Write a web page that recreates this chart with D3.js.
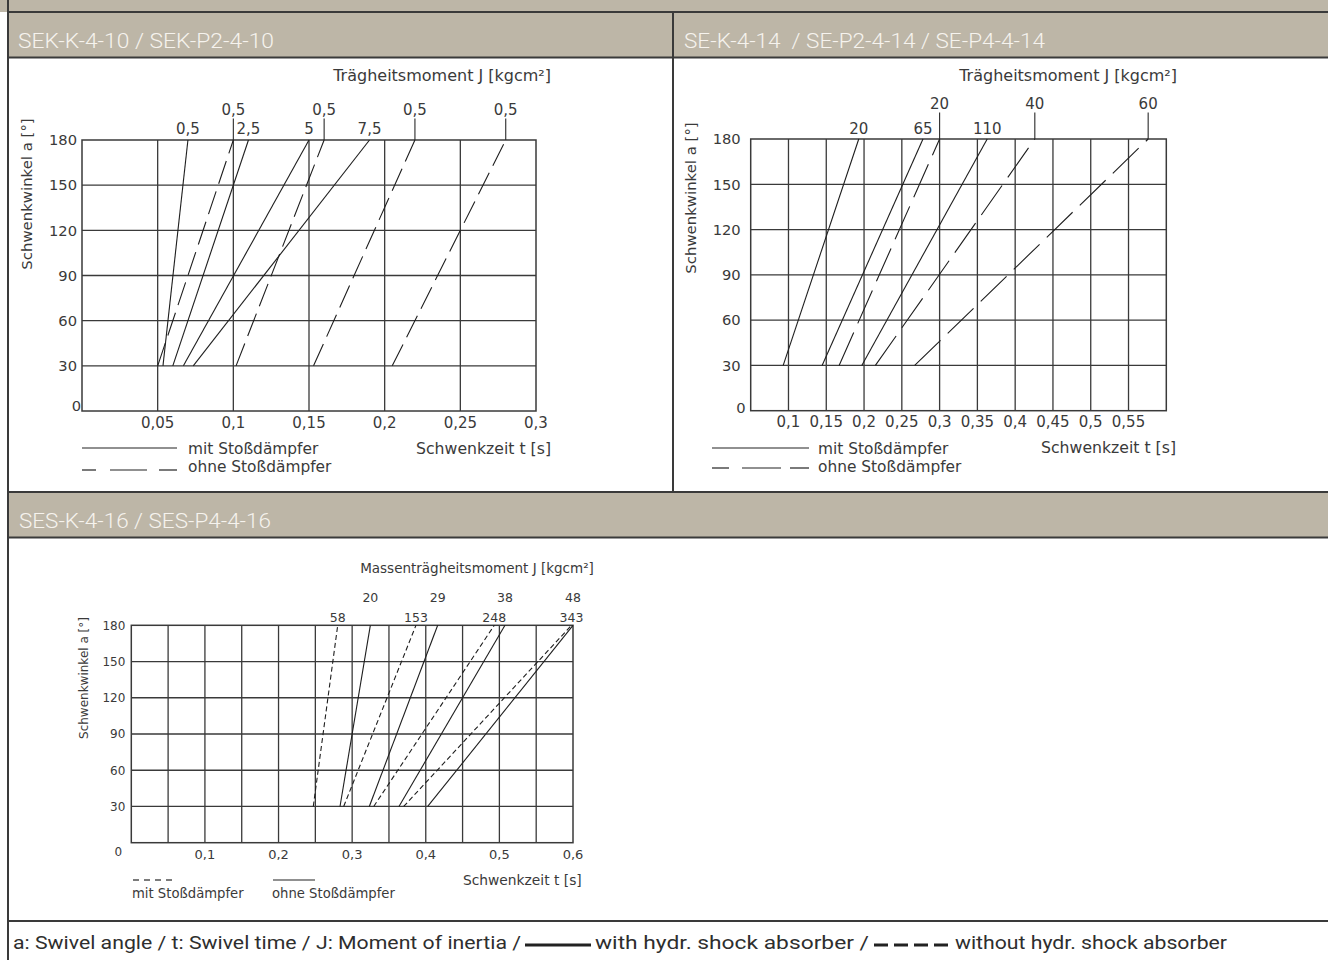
<!DOCTYPE html>
<html lang="de">
<head>
<meta charset="UTF-8">
<title>Schwenkzeit / Trägheitsmoment</title>
<script src="https://d3js.org/d3.v7.min.js"></script>
<style>
  body { margin: 0; background: #fff; }
  svg text { font-family: "DejaVu Sans", Verdana, sans-serif; fill: #3a3a3a; }
  svg text.band { font-family: Roboto, "DejaVu Sans Condensed", sans-serif; font-weight: 300; }
  svg text.band.foot { font-weight: 400; }
</style>
</head>
<body>
<svg id="chart" width="1328" height="960"></svg>
<script>
// shared angle ticks
const angleTicks = [0, 30, 60, 90, 120, 150, 180];

// SEK-K-4-10 / SEK-P2-4-10
const sekTimeTicks = [0.05, 0.1, 0.15, 0.2, 0.25, 0.3];
const sekSolidJ = ['0,5', '2,5', '5', '7,5'];
const sekSolidT30 = [0.0535, 0.060, 0.067, 0.0735];
const sekSolidT180 = [0.070, 0.110, 0.150, 0.190];
const sekDashJ = ['0,5', '0,5', '0,5', '0,5'];
const sekDashT30 = [0.050, 0.1018, 0.153, 0.205];
const sekDashT180 = [0.100, 0.160, 0.220, 0.280];

// SE-K-4-14 / SE-P2-4-14 / SE-P4-4-14
const seTimeTicks = [0.1, 0.15, 0.2, 0.25, 0.3, 0.35, 0.4, 0.45, 0.5, 0.55];
const seSolidJ = ['20', '65', '110'];
const seSolidT30 = [0.093, 0.1445, 0.197];
const seSolidT180 = [0.193, 0.278, 0.363];
const seDashJ = ['20', '40', '60'];
const seDashT30 = [0.167, 0.215, 0.267];
const seDashT180 = [0.300, 0.426, 0.576];

// SES-K-4-16 / SES-P4-4-16
const sesTimeTicks = [0.1, 0.2, 0.3, 0.4, 0.5, 0.6];
const sesGridTicks = [0.05, 0.1, 0.15, 0.2, 0.25, 0.3, 0.35, 0.4, 0.45, 0.5, 0.55];
const sesSolidJ = ['20', '29', '38', '48'];
const sesSolidT30 = [0.2835, 0.3233, 0.3636, 0.4026];
const sesSolidT180 = [0.3247, 0.4162, 0.5076, 0.600];
const sesDashJ = ['58', '153', '248', '343'];
const sesDashT30 = [0.2472, 0.2885, 0.3293, 0.370];
const sesDashT180 = [0.2804, 0.3867, 0.4931, 0.598];

const svg = d3.select('#chart');
const bandColor = '#bdb6a7';
const rule = '#3a3a3a';
const comma = v => String(v).replace('.', ',');

// frame: bands and rules
svg.append('rect').attr('x', 0).attr('y', 0).attr('width', 1328).attr('height', 12).attr('fill', bandColor);
svg.append('rect').attr('x', 8).attr('y', 13).attr('width', 1320).attr('height', 44).attr('fill', bandColor);
svg.append('rect').attr('x', 8).attr('y', 493).attr('width', 1320).attr('height', 44).attr('fill', bandColor);
[12, 57.5, 492, 537.5, 921].forEach(y => {
    svg.append('line').attr('x1', 8).attr('x2', 1328).attr('y1', y).attr('y2', y)
        .attr('stroke', rule).attr('stroke-width', 2);
});
svg.append('line').attr('x1', 8).attr('x2', 8).attr('y1', 0).attr('y2', 960).attr('stroke', rule).attr('stroke-width', 2);
svg.append('line').attr('x1', 673).attr('x2', 673).attr('y1', 12).attr('y2', 492).attr('stroke', rule).attr('stroke-width', 2);

function bandText(x, y, txt, len, color, size, cls) {
    svg.append('text').attr('class', 'band' + (cls ? ' ' + cls : ''))
        .attr('x', x).attr('y', y)
        .attr('textLength', len).attr('lengthAdjust', 'spacingAndGlyphs')
        .style('white-space', 'pre')
        .style('font-size', size + 'px')
        .style('fill', color)
        .text(txt);
}
bandText(18, 48, 'SEK-K-4-10 / SEK-P2-4-10', 256, '#f6f3ee', 20.5);
bandText(684, 48, 'SE-K-4-14  / SE-P2-4-14 / SE-P4-4-14', 361, '#f6f3ee', 20.5);
bandText(19, 528, 'SES-K-4-16 / SES-P4-4-16', 252, '#f6f3ee', 20.5);

// footer
bandText(13, 949, 'a: Swivel angle / t: Swivel time / J: Moment of inertia /', 508, '#2e2e2e', 19, 'foot');
svg.append('line').attr('x1', 525).attr('x2', 591).attr('y1', 945).attr('y2', 945).attr('stroke', '#222').attr('stroke-width', 3);
bandText(595, 949, 'with hydr. shock absorber /', 274, '#2e2e2e', 19, 'foot');
svg.append('line').attr('x1', 874).attr('x2', 950).attr('y1', 945).attr('y2', 945)
    .attr('stroke', '#222').attr('stroke-width', 3).attr('stroke-dasharray', '14,6');
bandText(955, 949, 'without hydr. shock absorber', 272, '#2e2e2e', 19, 'foot');

function drawChart(c) {
    const g = svg.append('g');
    const x = d3.scaleLinear().domain(c.xDomain).range(c.xRange);
    const y = d3.scaleLinear().domain([0, 180]).range(c.yRange);

    // grid
    g.selectAll('.vgrid').data(c.gridX).enter().append('line')
        .attr('x1', d => x(d)).attr('x2', d => x(d))
        .attr('y1', y(0)).attr('y2', y(180))
        .attr('stroke', rule).attr('stroke-width', 1.3);
    g.selectAll('.hgrid').data(angleTicks.slice(1, -1)).enter().append('line')
        .attr('x1', x(c.xDomain[0])).attr('x2', x(c.xDomain[1]))
        .attr('y1', d => y(d)).attr('y2', d => y(d))
        .attr('stroke', rule).attr('stroke-width', 1.3);
    g.append('rect')
        .attr('x', x(c.xDomain[0])).attr('y', y(180))
        .attr('width', x(c.xDomain[1]) - x(c.xDomain[0]))
        .attr('height', y(0) - y(180))
        .attr('fill', 'none').attr('stroke', rule).attr('stroke-width', 1.5);

    // y tick labels
    g.selectAll('.ytl').data(angleTicks.slice(1)).enter().append('text')
        .attr('x', x(c.xDomain[0]) - c.yLabelGap)
        .attr('y', d => y(d)).attr('dy', '0.36em')
        .attr('text-anchor', 'end')
        .style('font-size', c.yTickSize + 'px')
        .text(d => d);
    g.append('text')
        .attr('x', x(c.xDomain[0]) + c.zero[0]).attr('y', y(0) + c.zero[1])
        .attr('dy', '0.36em').attr('text-anchor', c.zero[2])
        .style('font-size', c.yTickSize + 'px')
        .text('0');

    // x tick labels
    g.selectAll('.xtl').data(c.xTicks).enter().append('text')
        .attr('x', d => x(d)).attr('y', y(0) + c.xLabelGap)
        .attr('text-anchor', 'middle')
        .style('font-size', c.xTickSize + 'px')
        .text(d => comma(d));

    // axis titles
    g.append('text')
        .attr('transform', `translate(${c.yTitle[0]},${c.yTitle[1]}) rotate(-90)`)
        .attr('text-anchor', 'middle').attr('dy', '0.36em')
        .style('font-size', c.yTitleSize + 'px')
        .text('Schwenkwinkel a [°]');
    g.append('text')
        .attr('x', c.xTitle[0]).attr('y', c.xTitle[1])
        .attr('text-anchor', c.xTitle[2])
        .style('font-size', c.xTitleSize + 'px')
        .text('Schwenkzeit t [s]');
    g.append('text')
        .attr('x', c.jTitle[0]).attr('y', c.jTitle[1])
        .attr('text-anchor', c.jTitle[2])
        .style('font-size', c.jTitleSize + 'px')
        .text(c.jTitleText);

    // series: straight lines from 30° to 180°
    const line = d3.line().x(d => x(d[0])).y(d => y(d[1]));
    const solid = c.solidT30.map((t, i) => ({ j: c.solidJ[i], pts: [[t, 30], [c.solidT180[i], 180]] }));
    const dash = c.dashT30.map((t, i) => ({ j: c.dashJ[i], pts: [[t, 30], [c.dashT180[i], 180]] }));

    g.selectAll('.solid').data(solid).enter().append('path')
        .attr('d', d => line(d.pts))
        .attr('fill', 'none').attr('stroke', '#1e1e1e').attr('stroke-width', 1.1);
    g.selectAll('.dash').data(dash).enter().append('path')
        .attr('d', d => line(d.pts))
        .attr('fill', 'none').attr('stroke', '#1e1e1e').attr('stroke-width', 1.1)
        .attr('stroke-dasharray', c.dashPattern);

    // J labels above the line ends
    const topRow = c.solidOnTop ? solid : dash;
    const lowRow = c.solidOnTop ? dash : solid;
    g.selectAll('.jtop').data(topRow).enter().append('text')
        .attr('x', d => x(d.pts[1][0]))
        .attr('y', c.rowY[0])
        .attr('text-anchor', 'middle')
        .style('font-size', c.jSize + 'px')
        .text(d => d.j);
    g.selectAll('.jlow').data(lowRow).enter().append('text')
        .attr('x', d => x(d.pts[1][0]))
        .attr('y', c.rowY[1])
        .attr('text-anchor', 'middle')
        .style('font-size', c.jSize + 'px')
        .text(d => d.j);
    if (c.leaders) {
        g.selectAll('.leader').data(topRow).enter().append('line')
            .attr('x1', d => x(d.pts[1][0])).attr('x2', d => x(d.pts[1][0]))
            .attr('y1', c.rowY[0] + 4).attr('y2', y(180))
            .attr('stroke', '#2a2a2a').attr('stroke-width', 1.1);
    }

    // legend samples
    c.legend.forEach(l => {
        l.segs.forEach(s => {
            g.append('line').attr('x1', s[0]).attr('x2', s[1]).attr('y1', l.y).attr('y2', l.y)
                .attr('stroke', '#222').attr('stroke-width', 1.2);
        });
        g.append('text').attr('x', l.tx).attr('y', l.ty)
            .style('font-size', c.legendSize + 'px')
            .text(l.text);
    });
}

drawChart({
    xDomain: [0, 0.3], xRange: [82, 536], yRange: [411, 140],
    gridX: sekTimeTicks.slice(0, -1), xTicks: sekTimeTicks,
    xTickSize: 15, yTickSize: 14.7, yTitleSize: 14.9, xTitleSize: 15.7, jTitleSize: 16, jSize: 15, legendSize: 15.4,
    yLabelGap: 5, xLabelGap: 16.5, zero: [-1, -5, 'end'],
    yTitle: [27, 194], xTitle: [551, 454, 'end'],
    jTitle: [551, 81, 'end'], jTitleText: 'Trägheitsmoment J [kgcm²]',
    solidJ: sekSolidJ, solidT30: sekSolidT30, solidT180: sekSolidT180,
    dashJ: sekDashJ, dashT30: sekDashT30, dashT180: sekDashT180,
    dashPattern: '24,8', rowY: [114.5, 133.5], solidOnTop: false, leaders: true,
    legend: [
        { y: 448, segs: [[82, 177]], tx: 188, ty: 453.5, text: 'mit Stoßdämpfer' },
        { y: 470, segs: [[82, 96], [110, 147], [159, 177]], tx: 188, ty: 472, text: 'ohne Stoßdämpfer' }
    ]
});

drawChart({
    xDomain: [0.05, 0.6], xRange: [750.7, 1166.3], yRange: [410.7, 139],
    gridX: seTimeTicks, xTicks: seTimeTicks,
    xTickSize: 15, yTickSize: 14.7, yTitleSize: 14.9, xTitleSize: 15.7, jTitleSize: 16, jSize: 15, legendSize: 15.4,
    yLabelGap: 10, xLabelGap: 16.5, zero: [-5, -3, 'end'],
    yTitle: [691, 198], xTitle: [1176, 453, 'end'],
    jTitle: [1177, 81, 'end'], jTitleText: 'Trägheitsmoment J [kgcm²]',
    solidJ: seSolidJ, solidT30: seSolidT30, solidT180: seSolidT180,
    dashJ: seDashJ, dashT30: seDashT30, dashT180: seDashT180,
    dashPattern: '36,10', rowY: [108.5, 133.5], solidOnTop: false, leaders: true,
    legend: [
        { y: 448, segs: [[712, 809]], tx: 818, ty: 453.5, text: 'mit Stoßdämpfer' },
        { y: 468, segs: [[712, 729], [742, 781], [790, 809]], tx: 818, ty: 472, text: 'ohne Stoßdämpfer' }
    ]
});

drawChart({
    xDomain: [0, 0.6], xRange: [131.3, 573], yRange: [842.7, 625.3],
    gridX: sesGridTicks, xTicks: sesTimeTicks,
    xTickSize: 13, yTickSize: 12, yTitleSize: 12, xTitleSize: 13.8, jTitleSize: 13.5, jSize: 12.5, legendSize: 13.2,
    yLabelGap: 6, xLabelGap: 16, zero: [-13, 9, 'middle'],
    yTitle: [84, 678], xTitle: [463, 885, 'start'],
    jTitle: [477, 573, 'middle'], jTitleText: 'Massenträgheitsmoment J [kgcm²]',
    solidJ: sesSolidJ, solidT30: sesSolidT30, solidT180: sesSolidT180,
    dashJ: sesDashJ, dashT30: sesDashT30, dashT180: sesDashT180,
    dashPattern: '5,3', rowY: [602, 622], solidOnTop: true, leaders: false,
    legend: [
        { y: 880, segs: [[133, 139], [144, 150], [155, 161], [166, 172]], tx: 132, ty: 898, text: 'mit Stoßdämpfer' },
        { y: 880, segs: [[273, 315]], tx: 272, ty: 898, text: 'ohne Stoßdämpfer' }
    ]
});
</script>
</body>
</html>
